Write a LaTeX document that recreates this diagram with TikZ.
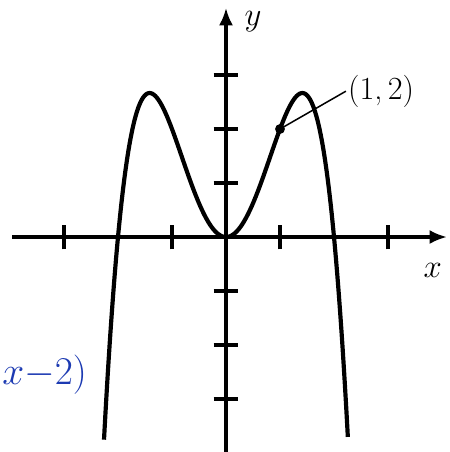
\documentclass[tikz,border=0pt]{standalone}
\usepackage{xcolor}
\usepackage{tikz}
\usetikzlibrary{arrows.meta,positioning}

\definecolor{ink}{RGB}{28,58,178}

\begin{document}
\begin{tikzpicture}[
    >={Latex[length=3.2mm,width=2.6mm]},
    axis/.style={->, line width=1.6pt},
    tick/.style={line width=1.8pt},
    graph/.style={line width=2.2pt, line join=round},
    lab/.style={font=\fontsize{17}{19}\selectfont},
    note/.style={font=\fontsize{21}{25}\selectfont, text=ink, inner sep=0pt}
  ]
    \useasboundingbox (-4.185,-3.981) rectangle (4.148,4.389);

    % axes
    \coordinate (xl) at (-3.96,0);
    \coordinate (xr) at (4.09,0);
    \coordinate (yb) at (0,-4.0);
    \coordinate (yt) at (0,4.24);
    \draw[axis] (xl) -- (xr);
    \draw[axis] (yb) -- (yt);
    \node[lab] (xlab) at (3.83,-0.62) {$x$};
    \node[lab, inner sep=1pt] (ylab) at (0.5,3.98) {$y$};

    \foreach \x in {-3,-1,1,3} {
      \draw[tick] (\x,-0.23) -- (\x,0.23);
    }
    \foreach \y in {-3,-2,-1,1,2,3} {
      \draw[tick] (-0.23,\y) -- (0.23,\y);
    }

    % graph
    \draw[graph] plot[domain=-2.259:2.259, samples=200, smooth]
      (\x,{(2/3)*\x*\x*(4-\x*\x)});

    \fill (1,2) circle (2.6pt);
    \coordinate (pt) at (1,2);
    \node[lab, anchor=west, inner sep=1pt] (ptlab) at (2.22,2.70) {(1,\,2)};
    \draw[line width=0.8pt] (pt) -- (ptlab.west);

    % handwritten note
    \node[note, anchor=west] (hw) at (-4.15,-2.55) {$x{-}2)$};
  \end{tikzpicture}
\end{document}
